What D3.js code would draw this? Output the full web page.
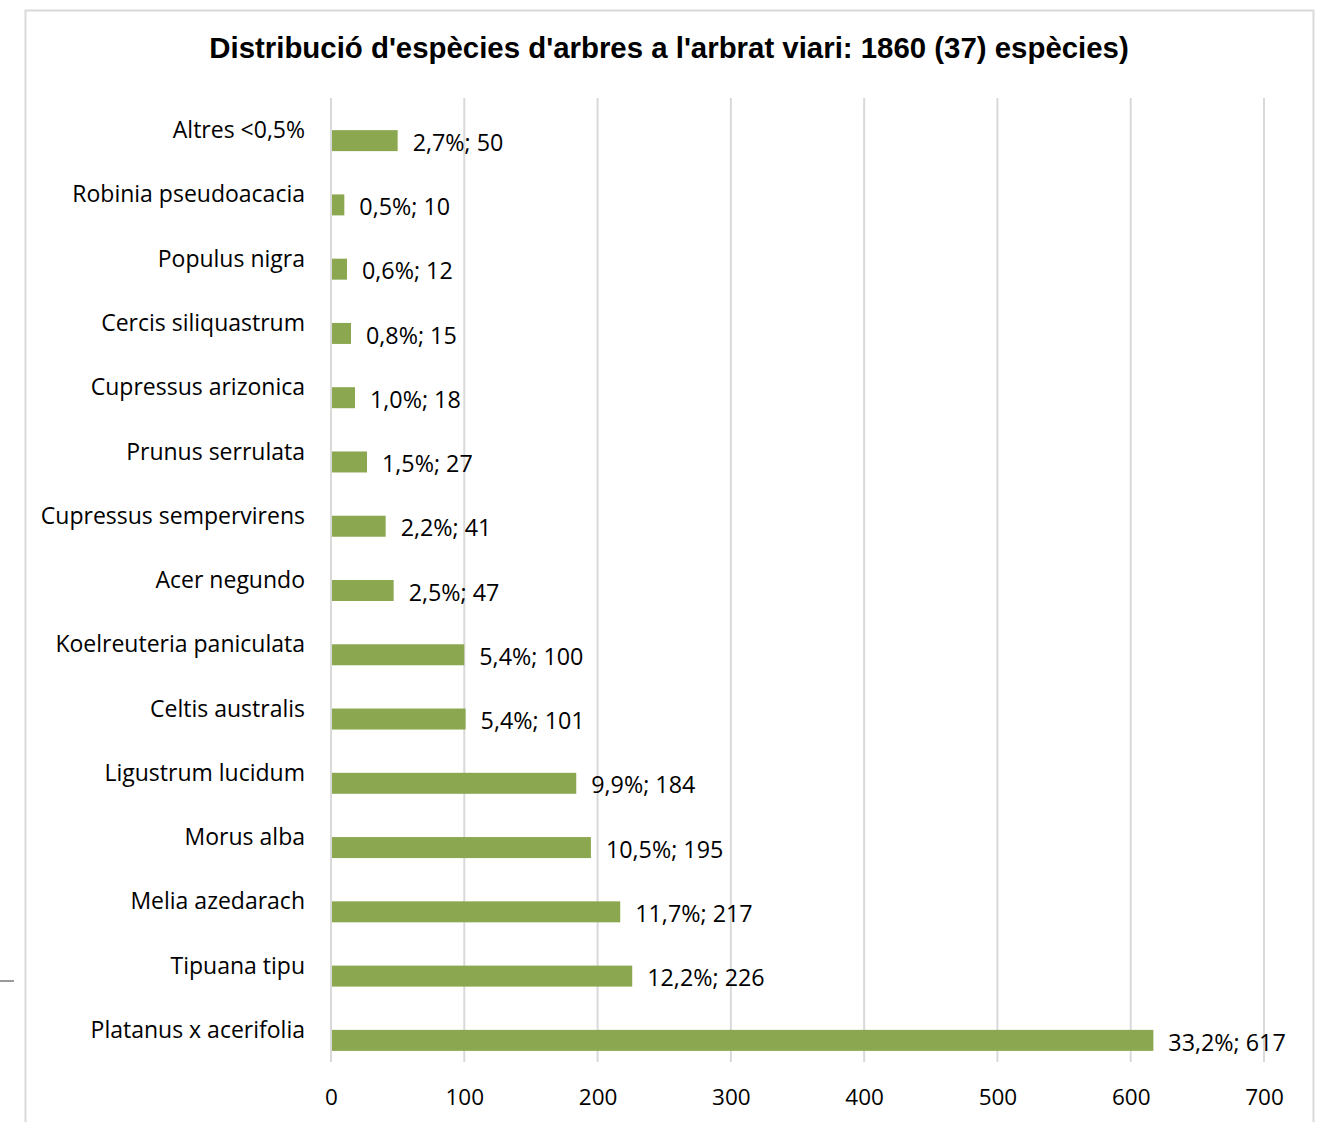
<!DOCTYPE html>
<html>
<head>
<meta charset="utf-8">
<script src="https://cdn.jsdelivr.net/npm/d3@7"></script>
<style>
  body { margin: 0; background: #fff; }
  svg { display: block; }
  .cat, .lbl, .tick text { font-family: "Open Sans", "Noto Sans", sans-serif; fill: #000; }
</style>
</head>
<body>
<div id="root"></div>
<script>
// categories top -> bottom, as in the picture
var species = ["Altres <0,5%", "Robinia pseudoacacia", "Populus nigra", "Cercis siliquastrum",
    "Cupressus arizonica", "Prunus serrulata", "Cupressus sempervirens", "Acer negundo",
    "Koelreuteria paniculata", "Celtis australis", "Ligustrum lucidum", "Morus alba",
    "Melia azedarach", "Tipuana tipu", "Platanus x acerifolia"];
var counts = [50, 10, 12, 15, 18, 27, 41, 47, 100, 101, 184, 195, 217, 226, 617];
var percents = ["2,7%", "0,5%", "0,6%", "0,8%", "1,0%", "1,5%", "2,2%", "2,5%",
    "5,4%", "5,4%", "9,9%", "10,5%", "11,7%", "12,2%", "33,2%"];
var xTicks = [0, 100, 200, 300, 400, 500, 600, 700];
var title = "Distribució d'espècies d'arbres a l'arbrat viari: 1860 (37) espècies)";

var width = 1318, height = 1122;
var margin = { top: 98, left: 331, right: 54, bottom: 60 };

var svg = d3.select("#root").append("svg")
    .attr("width", width)
    .attr("height", height);

// chart frame
svg.append("rect")
    .attr("x", 25.5).attr("y", 10.5)
    .attr("width", 1288).attr("height", 1130)
    .attr("fill", "none")
    .attr("stroke", "#d9d9d9")
    .attr("stroke-width", 2);

// little stray mark on the left
svg.append("line")
    .attr("x1", 0).attr("x2", 14).attr("y1", 981).attr("y2", 981)
    .attr("stroke", "#9a9a9a").attr("stroke-width", 2);

svg.append("text")
    .attr("x", 669).attr("y", 58)
    .attr("text-anchor", "middle")
    .style("font-family", "'Liberation Sans', Arial, sans-serif")
    .style("font-weight", "bold")
    .style("font-size", "29.4px")
    .text(title);

var xScale = d3.scaleLinear()
    .domain([0, 700])
    .range([margin.left, 1264]);

var yScale = d3.scaleBand()
    .domain(species)
    .range([margin.top, 1062])
    .paddingInner(0)
    .paddingOuter(0);

var barH = 21;

// gridlines
svg.append("g").selectAll("line")
    .data(xTicks)
    .enter()
    .append("line")
    .attr("x1", d => xScale(d)).attr("x2", d => xScale(d))
    .attr("y1", margin.top).attr("y2", 1062)
    .attr("stroke", "#d9d9d9")
    .attr("stroke-width", 2);

// x axis labels
var xAxis = d3.axisBottom(xScale)
    .tickValues(xTicks)
    .tickSize(0)
    .tickPadding(0)
    .tickFormat(d3.format("d"));

var xAxisGroup = svg.append("g")
    .attr("transform", "translate(0,1105)")
    .call(xAxis);
xAxisGroup.select(".domain").remove();
xAxisGroup.selectAll(".tick text")
    .attr("dy", 0)
    .style("font-size", "22.5px");

// bars, sitting on the lower half of each band
svg.append("g").selectAll("rect")
    .data(counts)
    .enter()
    .append("rect")
    .attr("x", xScale(0) + 1)
    .attr("y", (d, i) => yScale(species[i]) + yScale.bandwidth() / 2)
    .attr("width", d => xScale(d) - xScale(0) - 1)
    .attr("height", barH)
    .attr("fill", "#8ba750");

// category labels
svg.append("g").selectAll("text")
    .data(species)
    .enter()
    .append("text")
    .classed("cat", true)
    .attr("x", 305)
    .attr("y", d => yScale(d) + yScale.bandwidth() / 2)
    .attr("dy", "0.35em")
    .attr("text-anchor", "end")
    .style("font-size", "23px")
    .text(d => d);

// data labels
svg.append("g").selectAll("text")
    .data(counts)
    .enter()
    .append("text")
    .classed("lbl", true)
    .attr("x", d => xScale(d) + 15)
    .attr("y", (d, i) => yScale(species[i]) + yScale.bandwidth() / 2 + barH / 2 + 2)
    .attr("dy", "0.35em")
    .style("font-size", "23.3px")
    .text((d, i) => percents[i] + "; " + d);
</script>
</body>
</html>
